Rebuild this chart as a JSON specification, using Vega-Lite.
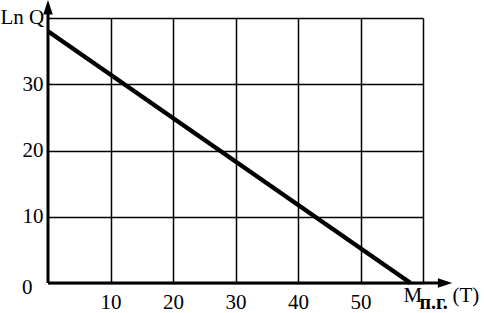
{
  "$schema": "https://vega.github.io/schema/vega-lite/v6.json",
  "autosize": "none",
  "width": 375,
  "height": 265,
  "padding": {"left": 48, "top": 18, "right": 61, "bottom": 30},
  "background": "white",
  "config": {
    "view": {"stroke": null},
    "font": "Liberation Serif",
    "axis": {"labelFont": "Liberation Serif", "titleFont": "Liberation Serif", "labelColor": "black", "titleColor": "black"}
  },
  "datasets": {
    "line": [{"m": 0, "lnq": 38}, {"m": 58, "lnq": 0}],
    "one": [{}]
  },
  "layer": [
    {
      "data": {"name": "line"},
      "mark": {"type": "line", "color": "black", "strokeWidth": 4.5, "clip": false},
      "encoding": {
        "x": {
          "field": "m", "type": "quantitative",
          "scale": {"domain": [0, 60], "nice": false, "zero": true},
          "axis": {
            "values": [10, 20, 30, 40, 50, 60],
            "labelExpr": "datum.value == 60 ? '' : datum.label",
            "grid": true, "gridColor": "black", "gridOpacity": 1, "gridWidth": 1.5,
            "domain": false, "ticks": false, "tickSize": 0,
            "labelFontSize": 21, "labelPadding": 8, "labelFlush": false,
            "title": null
          }
        },
        "y": {
          "field": "lnq", "type": "quantitative",
          "scale": {"domain": [0, 40], "nice": false},
          "axis": {
            "values": [0, 10, 20, 30, 40],
            "labelExpr": "datum.value == 40 ? '' : datum.label",
            "grid": true, "gridColor": "black", "gridOpacity": 1, "gridWidth": 1.5,
            "domain": false, "ticks": false, "tickSize": 0,
            "labelFontSize": 21,
            "labelPadding": {"condition": {"test": "datum.value === 0", "value": 16}, "value": 5},
            "labelOffset": {"condition": {"test": "datum.value === 0", "value": 4}, "value": 0},
            "labelFlush": false,
            "title": "Ln Q", "titleAngle": 0, "titleAlign": "left", "titleBaseline": "alphabetic",
            "titleX": -48, "titleY": 5, "titleFontSize": 21, "titleFontWeight": "normal"
          }
        }
      }
    },
    {
      "data": {"name": "one"},
      "mark": {"type": "rule", "color": "black", "strokeWidth": 3, "clip": false},
      "encoding": {"x": {"datum": 0}, "x2": {"datum": 63}, "y": {"datum": 0}}
    },
    {
      "data": {"name": "one"},
      "mark": {"type": "rule", "color": "black", "strokeWidth": 3, "clip": false},
      "encoding": {"x": {"datum": 0}, "y": {"datum": 0}, "y2": {"datum": 41.5}}
    },
    {
      "data": {"name": "one"},
      "mark": {"type": "point", "filled": true, "color": "black", "opacity": 1, "size": 256, "shape": "M1,0L-0.8,-0.6L-0.8,0.6Z", "clip": false},
      "encoding": {"x": {"datum": 63.4}, "y": {"datum": 0}}
    },
    {
      "data": {"name": "one"},
      "mark": {"type": "point", "filled": true, "color": "black", "opacity": 1, "size": 256, "shape": "M0,-1L0.6,0.8L-0.6,0.8Z", "clip": false},
      "encoding": {"x": {"datum": 0}, "y": {"datum": 41.5}}
    },
    {
      "data": {"name": "one"},
      "mark": {"type": "text", "text": "M", "font": "Liberation Serif", "fontSize": 21, "align": "left", "baseline": "alphabetic", "dx": -7, "dy": 19, "color": "black"},
      "encoding": {"x": {"datum": 58}, "y": {"datum": 0}}
    },
    {
      "data": {"name": "one"},
      "mark": {"type": "text", "text": "п.г.", "font": "Liberation Serif", "fontSize": 20, "fontWeight": "bold", "align": "left", "baseline": "alphabetic", "dx": 9, "dy": 26, "color": "black"},
      "encoding": {"x": {"datum": 58}, "y": {"datum": 0}}
    },
    {
      "data": {"name": "one"},
      "mark": {"type": "text", "text": "(T)", "font": "Liberation Serif", "fontSize": 21, "align": "left", "baseline": "alphabetic", "dx": 42, "dy": 19, "color": "black"},
      "encoding": {"x": {"datum": 58}, "y": {"datum": 0}}
    }
  ]
}
